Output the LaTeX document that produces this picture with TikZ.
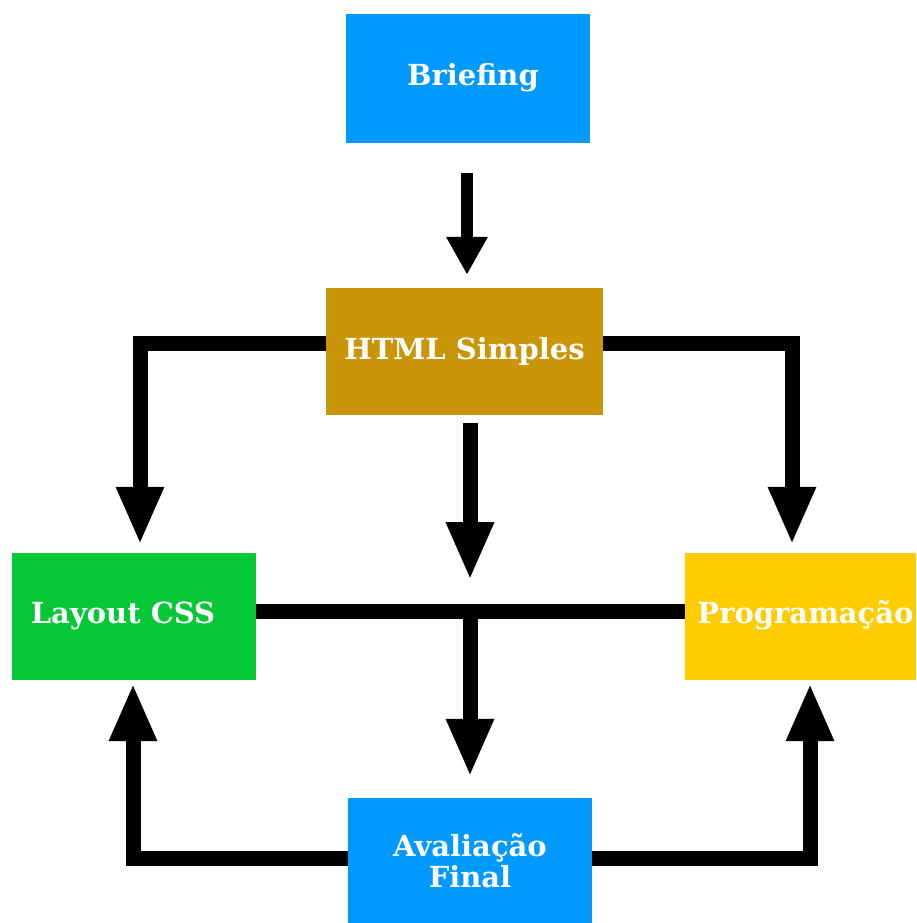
\documentclass[tikz,border=0pt]{standalone}
\usepackage{fontspec}
\setmainfont{DejaVu Serif}
\usetikzlibrary{arrows.meta,calc}
\definecolor{cblue}{RGB}{0,153,255}
\definecolor{cgold}{RGB}{200,150,8}
\definecolor{cgreen}{RGB}{5,200,55}
\definecolor{cyellow}{RGB}{255,204,0}
\begin{document}
\begin{tikzpicture}[x=1pt,y=-1pt,
  box/.style={rectangle, inner sep=0pt, text=white,
    font=\bfseries\fontsize{29}{31}\selectfont, align=center},
  conn/.style={line width=15pt, line join=miter, draw=black},
  arr/.style={conn, -{Triangle[width=44pt,length=58pt]}},
  smallarr/.style={line width=12pt, draw=black, -{Triangle[width=39pt,length=38pt]}}]
\useasboundingbox (0,0) rectangle (916,923);
\fill[white] (0,0) rectangle (916,923);
% boxes
\node[box, fill=cblue, minimum width=244pt, minimum height=129pt] (brief) at (468,78.5) {\raisebox{8pt}{\hspace*{10pt}Briefing}};
\node[box, fill=cgold, minimum width=277pt, minimum height=127pt] (html) at (464.5,351.5) {\raisebox{3pt}{HTML Simples}};
\node[box, fill=cgreen, minimum width=244pt, minimum height=127pt] (layout) at (134,616.5) {\raisebox{8pt}{Layout CSS\hspace*{22pt}}};
\node[box, fill=cyellow, minimum width=231pt, minimum height=127pt] (prog) at (800.5,616.5) {\raisebox{8pt}{\hspace*{10pt}Programação}};
\node[box, fill=cblue, minimum width=244pt, minimum height=125pt] (aval) at (470,860.5) {Avaliação\\Final};
% helper coordinates
\coordinate (hl) at ($(html.west)+(0,-8.5)$);
\coordinate (hr) at ($(html.east)+(0,-8.5)$);
\coordinate (lt) at ($(layout.north)+(6,-8)$);
\coordinate (pt) at ($(prog.north)+(-8.5,-8)$);
\coordinate (mid) at (470,611);
\coordinate (lb) at ($(layout.south)+(-1,3)$);
\coordinate (pb) at ($(prog.south)+(9.5,3)$);
\coordinate (al) at ($(aval.west)+(0,-2.5)$);
\coordinate (ar) at ($(aval.east)+(0,-2.5)$);
% connectors
\draw[smallarr] ($(brief.south)+(-1,30)$) -- ($(html.north)+(2.5,-13)$);
\draw[arr] (hl) -| (lt);
\draw[arr] (hr) -| (pt);
\draw[arr] ($(html.south)+(5.5,8)$) -- ($(html.south)+(5.5,165)$);
\draw[conn] (layout.east |- mid) -- (prog.west |- mid);
\draw[arr] (mid) -- ($(aval.north)+(0,-21)$);
\draw[arr] (al) -| (lb);
\draw[arr] (ar) -| (pb);
\end{tikzpicture}
\end{document}
